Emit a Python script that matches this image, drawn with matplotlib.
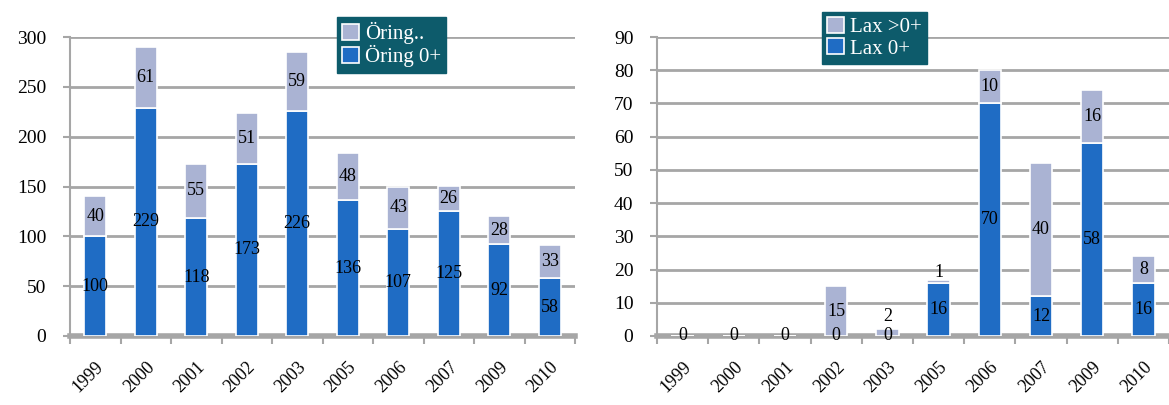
import matplotlib.pyplot as plt
import numpy as np

years = ['1999', '2000', '2001', '2002', '2003', '2005', '2006', '2007', '2009', '2010']

# Öring (trout)
oring_0 = [100, 229, 118, 173, 226, 136, 107, 125, 92, 58]
oring_older = [40, 61, 55, 51, 59, 48, 43, 26, 28, 33]

# Lax (salmon)
lax_0 = [0, 0, 0, 0, 0, 16, 70, 12, 58, 16]
lax_older = [0, 0, 0, 15, 2, 1, 10, 40, 16, 8]

c_low = '#1f6cc4'
c_high = '#aab3d3'
grid_c = '#a6a6a6'
legend_bg = '#0d5b6b'
serif = ['Liberation Serif', 'DejaVu Serif']

fig = plt.figure(figsize=(11.69, 4.05), dpi=100)
ax1 = fig.add_axes([70 / 1169, 69 / 405, 505 / 1169, 299 / 405])
ax2 = fig.add_axes([657 / 1169, 69 / 405, 512 / 1169, 299 / 405])


def draw(ax, low, high, ymax, ystep, names, legend_pos):
    x = np.arange(len(years))
    b1 = ax.bar(x, low, width=0.44, color=c_low, edgecolor='white', linewidth=1.2,
                label=names[1], zorder=3)
    b2 = ax.bar(x, high, bottom=low, width=0.44, color=c_high, edgecolor='white',
                linewidth=1.2, label=names[0], zorder=3)
    for i in range(len(years)):
        ax.text(x[i], low[i] / 2, str(low[i]), ha='center', va='center',
                fontsize=13, family=serif, zorder=5)
        if high[i] > 0 or low[i] > 0:
            # tiny top segments: lift the label so it does not sit on the one below
            lift = ymax * (0.065 if low[i] == 0 else 0.035)
            ymid = max(low[i] + high[i] / 2, low[i] + lift)
            ax.text(x[i], ymid, str(high[i]), ha='center', va='center',
                    fontsize=13, family=serif, zorder=5)
    ax.set_xlim(-0.5, len(years) - 0.5)
    ax.set_ylim(0, ymax)
    ax.set_yticks(np.arange(0, ymax + 1, ystep))
    ax.yaxis.grid(True, color=grid_c, linewidth=2, zorder=0)
    ax.set_axisbelow(True)
    for s in ['top', 'right']:
        ax.spines[s].set_visible(False)
    ax.spines['left'].set_color(grid_c)
    ax.spines['left'].set_linewidth(1.5)
    ax.spines['bottom'].set_color(grid_c)
    ax.spines['bottom'].set_linewidth(4)
    ax.set_xticks(x)
    ax.set_xticklabels(years, rotation=45, ha='right', rotation_mode='anchor',
                       family=serif, fontsize=13)
    ax.tick_params(axis='x', length=0, pad=16)
    ax.set_xticks(np.arange(-0.5, len(years)), minor=True)
    ax.tick_params(axis='x', which='minor', length=6, color=grid_c, width=1.5)
    ax.tick_params(axis='y', length=5, color=grid_c, width=1.5, pad=12)
    for lbl in ax.get_yticklabels():
        lbl.set_family(serif)
        lbl.set_fontsize(14)
    leg = fig.legend(handles=[b2, b1], loc='upper left', bbox_to_anchor=legend_pos,
                     frameon=True, fancybox=False, facecolor=legend_bg,
                     edgecolor=legend_bg, framealpha=1, handlelength=0.8,
                     handleheight=0.8, handletextpad=0.3, borderpad=0.25,
                     labelspacing=0.05, borderaxespad=0,
                     prop={'family': serif, 'size': 15})
    for t in leg.get_texts():
        t.set_color('white')
    for h in leg.legend_handles:
        h.set_edgecolor('white')


draw(ax1, oring_0, oring_older, 300, 50, ['Öring..', 'Öring 0+'], (337 / 1169, 1 - 17 / 405))
draw(ax2, lax_0, lax_older, 90, 10, ['Lax >0+', 'Lax 0+'], (822 / 1169, 1 - 12 / 405))

fig.savefig('out.png', dpi=100)
